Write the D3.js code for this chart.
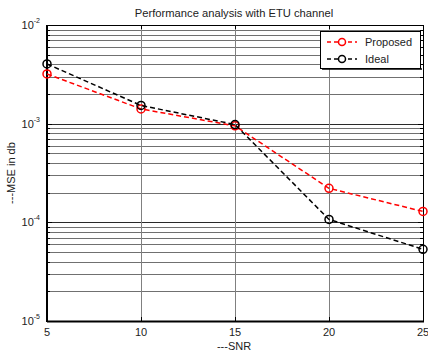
<!DOCTYPE html>
<html><head><meta charset="utf-8">
<script src="https://cdn.jsdelivr.net/npm/d3@7"></script>
<style>body{margin:0;background:#fff}svg{display:block;font-family:"Liberation Sans",Arial,sans-serif}</style>
</head><body>
<svg id="c" width="428" height="356"></svg>
<script>
const snr = [5, 10, 15, 20, 25];
const proposed = [3.19e-3, 1.41e-3, 0.95e-3, 2.21e-4, 1.29e-4];
const ideal = [4.03e-3, 1.53e-3, 0.98e-3, 1.07e-4, 5.33e-5];
const xTicks = [5, 10, 15, 20, 25];
const yDecades = [1e-5, 1e-4, 1e-3, 1e-2];
const yExp = ["-5", "-4", "-3", "-2"];

const svg = d3.select("#c");
const L = 47, R = 423, T = 25, B = 321;
const x = d3.scaleLinear().domain([5, 25]).range([L, R]);
const y = d3.scaleLog().domain([1e-5, 1e-2]).range([B, T]);

const minors = [];
for (let d = 1e-5; d < 1e-2 * 0.999; d *= 10) for (let k = 2; k <= 9; k++) minors.push(d * k);

const g = svg.append("g");
g.selectAll(".mg").data(minors).join("line")
  .attr("x1", L).attr("x2", R).attr("y1", d => Math.round(y(d)) + 0.5).attr("y2", d => Math.round(y(d)) + 0.5)
  .attr("stroke", "#707070").attr("stroke-width", 1);
g.selectAll(".Mg").data(yDecades).join("line")
  .attr("x1", L).attr("x2", R).attr("y1", d => Math.round(y(d)) + 0.5).attr("y2", d => Math.round(y(d)) + 0.5)
  .attr("stroke", "#2a2a2a").attr("stroke-width", 1);
g.selectAll(".vg").data(xTicks).join("line")
  .attr("x1", d => Math.round(x(d)) + 0.5).attr("x2", d => Math.round(x(d)) + 0.5).attr("y1", T).attr("y2", B)
  .attr("stroke", "#808080").attr("stroke-width", 1);

const tk = g.append("g");
minors.forEach(v => {
  const yy = Math.round(y(v)) + 0.5;
  tk.append("line").attr("x1", L).attr("x2", L + 3).attr("y1", yy).attr("y2", yy).attr("stroke", "#000");
  tk.append("line").attr("x1", R - 3).attr("x2", R).attr("y1", yy).attr("y2", yy).attr("stroke", "#000");
});
yDecades.forEach(v => {
  const yy = Math.round(y(v)) + 0.5;
  tk.append("line").attr("x1", L).attr("x2", L + 5).attr("y1", yy).attr("y2", yy).attr("stroke", "#000");
  tk.append("line").attr("x1", R - 5).attr("x2", R).attr("y1", yy).attr("y2", yy).attr("stroke", "#000");
});
xTicks.forEach(v => {
  const xx = Math.round(x(v)) + 0.5;
  tk.append("line").attr("x1", xx).attr("x2", xx).attr("y1", B).attr("y2", B - 4).attr("stroke", "#000");
  tk.append("line").attr("x1", xx).attr("x2", xx).attr("y1", T).attr("y2", T + 4).attr("stroke", "#000");
});

svg.append("rect").attr("x", L + 0.5).attr("y", T + 0.5).attr("width", R - L).attr("height", B - T)
  .attr("fill", "none").attr("stroke", "#000").attr("stroke-width", 1);
svg.append("line").attr("x1", L).attr("x2", R + 1).attr("y1", B + 0.5).attr("y2", B + 0.5).attr("stroke", "#000").attr("stroke-width", 2);
svg.append("line").attr("x1", L).attr("x2", L).attr("y1", T).attr("y2", B + 1).attr("stroke", "#000").attr("stroke-width", 2);

svg.selectAll(".xl").data(xTicks).join("text")
  .attr("x", d => x(d)).attr("y", B + 15).attr("text-anchor", "middle")
  .attr("font-size", 11).attr("fill", "#222").text(d => d);
yDecades.forEach((v, i) => {
  const t = svg.append("text").attr("x", L - 7).attr("y", y(v) + 4).attr("text-anchor", "end")
    .attr("font-size", 11).attr("fill", "#222");
  t.append("tspan").text("10");
  t.append("tspan").attr("font-size", 7).attr("dy", -6).text(yExp[i]);
});

const line = d3.line().x((d, i) => x(snr[i])).y(d => y(d));
function series(vals, color) {
  svg.append("path").attr("d", line(vals)).attr("fill", "none").attr("stroke", color)
    .attr("stroke-width", 1.5).attr("stroke-dasharray", "5,3");
  svg.selectAll(null).data(vals).join("circle")
    .attr("cx", (d, i) => x(snr[i])).attr("cy", d => y(d)).attr("r", 4)
    .attr("fill", "none").attr("stroke", color).attr("stroke-width", 1.5);
}
series(proposed, "#ff0000");
series(ideal, "#000000");

const lg = svg.append("g");
lg.append("rect").attr("x", 320.5).attr("y", 31.5).attr("width", 100).attr("height", 37)
  .attr("fill", "#fff").attr("stroke", "#000").attr("stroke-width", 1);
lg.append("line").attr("x1", 322).attr("x2", 422).attr("y1", 69).attr("y2", 69).attr("stroke", "#000").attr("stroke-width", 1.5);
const items = [["Proposed", "#ff0000", 42], ["Ideal", "#000000", 59]];
items.forEach(([name, col, yy]) => {
  lg.append("line").attr("x1", 327).attr("x2", 357).attr("y1", yy).attr("y2", yy).attr("stroke", col)
    .attr("stroke-width", 1.5).attr("stroke-dasharray", "4,3");
  lg.append("circle").attr("cx", 342).attr("cy", yy).attr("r", 3.5).attr("fill", "#fff").attr("stroke", col).attr("stroke-width", 1.5);
  lg.append("text").attr("x", 365).attr("y", yy + 4).attr("font-size", 11).attr("fill", "#222").text(name);
});

svg.append("text").attr("x", 234).attr("y", 17).attr("text-anchor", "middle").attr("font-size", 11.2).attr("fill", "#222")
  .text("Performance analysis with ETU channel");
svg.append("text").attr("x", 234).attr("y", 350).attr("text-anchor", "middle").attr("font-size", 11).attr("fill", "#222")
  .text("---SNR");
svg.append("text").attr("transform", "translate(15,173) rotate(-90)").attr("text-anchor", "middle")
  .attr("font-size", 11).attr("fill", "#222").text("---MSE in db");
</script>
</body></html>
